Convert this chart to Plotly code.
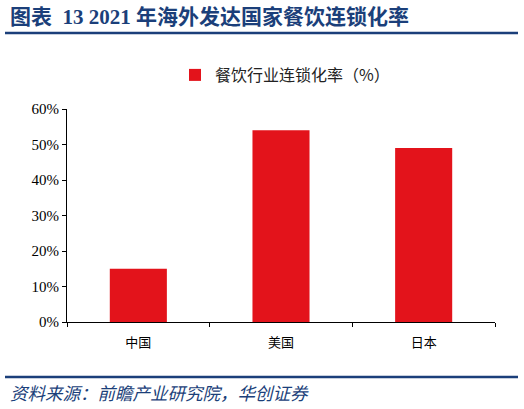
import plotly.graph_objects as go

categories = ["中国", "美国", "日本"]
values = [0.15, 0.54, 0.49]
series_name = "餐饮行业连锁化率（%）"
y_ticks = [0, 0.1, 0.2, 0.3, 0.4, 0.5, 0.6]
y_ticklabels = ["0%", "10%", "20%", "30%", "40%", "50%", "60%"]

title_text = "图表  13 2021 年海外发达国家餐饮连锁化率"
source_text = "资料来源：前瞻产业研究院，华创证券"

L, R, T, B = 67, 29, 109, 87
W, H = 524, 409
pw, ph = W - L - R, H - T - B

def px(x):
    return (x - L) / pw

def py(y):
    return (H - B - y) / ph

navy = "#1b3f7a"
fig = go.Figure()
fig.add_trace(go.Bar(x=categories, y=values, name=series_name,
                     marker=dict(color="#e3131b", line=dict(width=0)),
                     width=0.4, showlegend=True))

fig.update_layout(
    width=W, height=H,
    margin=dict(l=L, r=R, t=T, b=B, autoexpand=False),
    paper_bgcolor="white", plot_bgcolor="white",
    showlegend=True,
    legend=dict(orientation="h", x=px(175), xanchor="left", y=py(75), yanchor="middle",
                font=dict(family="Noto Sans CJK SC", size=16, color="#222"),
                bgcolor="rgba(0,0,0,0)"),
    xaxis=dict(showline=True, linecolor="black", linewidth=1, ticks="outside",
               tickson="boundaries", ticklen=4, tickcolor="black",
               ticklabelstandoff=8,
               tickfont=dict(family="Noto Sans CJK SC", size=13, color="black"),
               showgrid=False, zeroline=False),
    yaxis=dict(range=[0, 0.6], tickvals=y_ticks, ticktext=y_ticklabels,
               showline=True, linecolor="black", linewidth=1, ticks="outside",
               ticklen=4, tickcolor="black", showgrid=False, zeroline=False,
               tickfont=dict(family="Liberation Serif", size=15, color="black")),
)

fig.add_annotation(xref="paper", yref="paper", x=px(8), y=py(17), xanchor="left", yanchor="middle",
                   text="<b>" + title_text + "</b>", showarrow=False,
                   font=dict(family="Liberation Serif, Noto Sans CJK SC", size=21, color=navy))
fig.add_shape(type="line", xref="paper", yref="paper", x0=px(5), x1=px(518), y0=py(33), y1=py(33),
              line=dict(color=navy, width=2.5))
fig.add_shape(type="line", xref="paper", yref="paper", x0=px(5), x1=px(518), y0=py(377), y1=py(377),
              line=dict(color=navy, width=2.5))
fig.add_annotation(xref="paper", yref="paper", x=px(8), y=py(392), xanchor="left", yanchor="middle",
                   text="<i>" + source_text + "</i>", showarrow=False,
                   font=dict(family="Noto Sans CJK SC", size=17.5, color=navy))

fig.write_html("out.html", config={"displayModeBar": False},
               post_script="document.body.style.margin='0';document.body.style.overflow='hidden';")
